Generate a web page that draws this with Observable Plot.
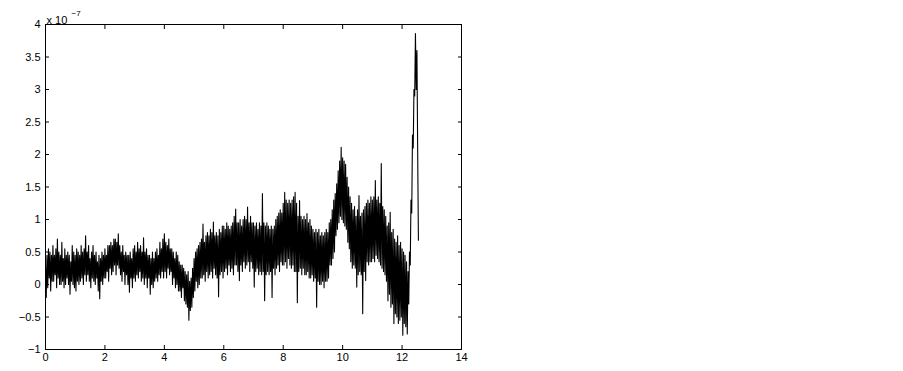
<!DOCTYPE html>
<html><head><meta charset="utf-8">
<script src="https://cdn.jsdelivr.net/npm/d3@7"></script>
<script src="https://cdn.jsdelivr.net/npm/@observablehq/plot@0.6"></script>
<style>html,body{margin:0;padding:0;background:#fff} #chart svg{display:block}</style>
</head><body><div id="chart"></div>
<script>
// Signal sampled every 0.025 time units, values in units of 1e-7
const sampleStep = 0.025;
const signal = [
  0.3, -0.2, 0.45, -0.05, 0.55, 0.1, 0.5, -0.1, 0.45, 0.05,
  0.6, 0.05, 0.45, 0.15, 0.55, -0.05, 0.7, 0.1, 0.5, 0.0,
  0.45, 0.0, 0.65, 0.05, 0.4, -0.05, 0.55, 0.0, 0.45, 0.1,
  0.5, 0.0, 0.45, -0.15, 0.35, 0.05, 0.6, 0.0, 0.5, -0.05,
  0.45, -0.1, 0.55, 0.05, 0.5, 0.0, 0.45, 0.05, 0.6, 0.1,
  0.5, 0.0, 0.55, 0.15, 0.75, 0.05, 0.5, 0.15, 0.6, 0.05,
  0.4, -0.05, 0.5, 0.1, 0.6, 0.05, 0.45, 0.0, 0.5, 0.1,
  0.35, -0.1, 0.45, -0.22, 0.4, 0.05, 0.5, 0.0, 0.45, 0.1,
  0.55, 0.1, 0.45, 0.2, 0.6, 0.05, 0.6, 0.25, 0.65, 0.15,
  0.6, 0.2, 0.7, 0.3, 0.7, 0.15, 0.65, 0.3, 0.78, 0.25,
  0.6, 0.15, 0.5, 0.05, 0.6, 0.2, 0.45, 0.0, 0.5, 0.15,
  0.45, 0.0, 0.45, -0.12, 0.5, 0.1, 0.4, -0.05, 0.55, 0.1,
  0.6, 0.05, 0.5, 0.15, 0.65, 0.1, 0.55, 0.2, 0.6, 0.05,
  0.5, 0.1, 0.72, 0.0, 0.5, 0.1, 0.55, -0.05, 0.45, 0.1,
  0.45, -0.15, 0.4, 0.0, 0.5, -0.05, 0.4, 0.05, 0.5, 0.1,
  0.55, 0.05, 0.45, 0.15, 0.65, 0.1, 0.55, 0.2, 0.7, 0.1,
  0.78, 0.2, 0.65, 0.1, 0.6, 0.25, 0.7, 0.15, 0.55, 0.2,
  0.55, 0.0, 0.5, 0.1, 0.4, -0.05, 0.5, 0.0, 0.45, -0.1,
  0.35, -0.1, 0.3, -0.2, 0.3, -0.05, 0.25, -0.25, 0.2, -0.3,
  0.15, -0.35, 0.2, -0.55, 0.05, -0.4, 0.1, -0.35, 0.25, -0.2,
  0.4, -0.1, 0.5, 0.05, 0.55, -0.05, 0.6, 0.0, 0.65, 0.1,
  0.7, 0.1, 0.93, 0.15, 0.65, 0.05, 0.75, 0.2, 0.8, 0.1,
  0.75, 0.15, 0.85, 0.2, 0.8, 0.1, 0.96, 0.25, 0.75, 0.15,
  0.8, 0.1, 0.75, -0.19, 0.85, 0.15, 0.8, 0.2, 0.9, 0.1,
  0.9, 0.2, 0.85, 0.25, 0.95, 0.15, 0.9, 0.3, 0.85, 0.2,
  0.9, 0.25, 0.95, 0.15, 1.05, 0.3, 1.16, 0.3, 0.95, 0.2,
  0.95, 0.06, 1.0, 0.3, 0.9, 0.2, 1.0, 0.35, 1.05, 0.25,
  1.0, 0.3, 1.19, 0.35, 0.95, 0.2, 1.05, 0.35, 0.95, 0.25,
  0.95, -0.04, 0.9, 0.2, 0.95, 0.25, 0.85, 0.15, 0.95, 0.2,
  0.9, 0.15, 1.4, 0.2, 0.95, -0.25, 0.9, 0.15, 0.95, 0.2,
  0.9, 0.15, 0.85, 0.2, 0.9, -0.2, 0.85, 0.25, 0.9, 0.15,
  1.0, 0.25, 1.05, 0.3, 1.1, 0.2, 1.15, 0.35, 1.1, 0.3,
  1.25, 0.3, 1.42, 0.35, 1.3, 0.25, 1.25, 0.4, 1.3, 0.3,
  1.25, 0.25, 1.3, 0.3, 1.35, 0.2, 1.42, 0.2, 1.25, -0.28,
  1.05, 0.2, 1.29, 0.25, 1.05, 0.15, 1.0, 0.25, 1.05, 0.15,
  1.0, 0.15, 1.09, 0.2, 0.95, 0.1, 1.0, 0.1, 0.9, 0.15,
  0.85, 0.05, 0.8, 0.1, 0.85, -0.35, 0.8, 0.05, 0.85, 0.0,
  0.75, 0.0, 0.8, 0.05, 0.75, -0.05, 0.8, 0.05, 0.85, 0.05,
  0.8, 0.1, 0.95, 0.3, 1.0, 0.3, 1.15, 0.4, 1.3, 0.5,
  1.4, 0.75, 1.55, 0.85, 1.75, 0.95, 1.9, 1.05, 2.11, 1.0,
  1.95, 0.95, 1.9, 0.9, 1.85, 0.85, 1.65, 0.65, 1.5, 0.55,
  1.35, 0.35, 1.25, 0.25, 1.15, 0.3, 1.2, 0.25, 1.05, -0.04,
  1.15, 0.15, 1.37, 0.2, 1.05, 0.15, 1.1, -0.45, 1.15, 0.2,
  1.2, 0.06, 1.25, 0.35, 1.3, 0.3, 1.25, 0.35, 1.35, 0.35,
  1.3, 0.4, 1.35, 0.35, 1.6, 0.45, 1.3, 0.4, 1.35, 0.35,
  1.25, 0.3, 1.86, 0.25, 1.2, 0.2, 1.15, 0.15, 1.05, 0.05,
  0.9, -0.25, 0.95, -0.15, 1.11, -0.35, 0.8, -0.3, 0.85, -0.6,
  0.7, -0.45, 0.65, -0.5, 0.75, -0.6, 0.6, -0.55, 0.65, -0.5,
  0.55, -0.78, 0.5, -0.6, 0.45, -0.65, 0.35, -0.76, 0.2, -0.3,
  0.5, 0.3, 1.3, 1.1, 2.3, 2.1, 3.0, 2.9, 3.86, 3.0, 3.6, 2.06, 0.68
];
const xTicks = [0, 2, 4, 6, 8, 10, 12, 14];
const yTicks = [-1, -0.5, 0, 0.5, 1, 1.5, 2, 2.5, 3, 3.5, 4];
const exponentBase = "x 10";
const exponentPower = "\u22127";

const data = signal.map((v, i) => ({t: i * sampleStep, v}));
const fmt = d3.format("~g");

const chart = Plot.plot({
  width: 903, height: 371,
  marginLeft: 45, marginRight: 442, marginTop: 24, marginBottom: 22,
  style: {fontFamily: "'Liberation Sans', Arial, sans-serif", fontSize: "11px", color: "#000", background: "#fff"},
  x: {domain: [0, 14]},
  y: {domain: [-1, 4]},
  marks: [
    Plot.line(data, {x: "t", y: "v", stroke: "#000", strokeWidth: 1.1}),
    Plot.frame({stroke: "#000"}),
    Plot.axisX({anchor: "bottom", ticks: xTicks, tickSize: -4, tickPadding: 8, tickFormat: fmt, label: null}),
    Plot.axisX({anchor: "top", ticks: xTicks, tickSize: -4, tickFormat: () => "", label: null}),
    Plot.axisY({anchor: "left", ticks: yTicks, tickSize: -4, tickPadding: 9, tickFormat: fmt, label: null}),
    Plot.axisY({anchor: "right", ticks: yTicks, tickSize: -4, tickFormat: () => "", label: null}),
    Plot.text([exponentBase], {frameAnchor: "top-left", text: d => d, dx: 1, dy: -8, textAnchor: "start"}),
    Plot.text([exponentPower], {frameAnchor: "top-left", text: d => d, dx: 26, dy: -14, textAnchor: "start", fontSize: 8})
  ]
});
document.getElementById("chart").appendChild(chart);
</script>
</body></html>
